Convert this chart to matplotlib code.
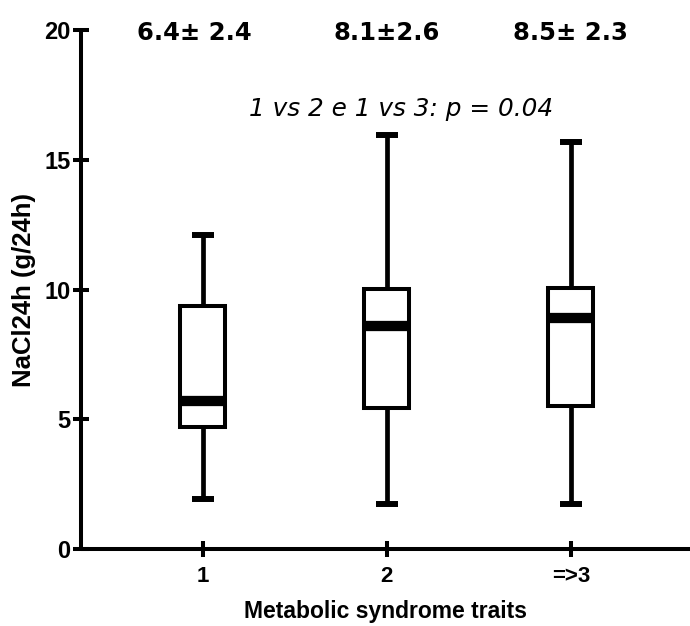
import matplotlib
matplotlib.use("Agg")
import matplotlib.pyplot as plt
from matplotlib.transforms import offset_copy

# Data: NaCl excretion (g/24h) by number of metabolic syndrome traits
categories = ["1", "2", "=>3"]
whisker_low = [1.92, 1.72, 1.72]
q1 = [4.69, 5.42, 5.50]
median = [5.71, 8.59, 8.92]
q3 = [9.35, 10.02, 10.04]
whisker_high = [12.12, 15.97, 15.67]
mean_sd_labels = ["6.4\u00b1 2.4", "8.1\u00b12.6", "8.5\u00b1 2.3"]
p_text = "1 vs 2 e 1 vs 3: p = 0.04"
y_ticks = [0, 5, 10, 15, 20]

arial = ["Liberation Sans", "DejaVu Sans"]

fig = plt.figure(figsize=(6.9, 6.26), dpi=100)
ax = fig.add_axes([0.117, 0.123, 0.883, 0.829])

positions = list(range(1, len(categories) + 1))
stats = []
for i, name in enumerate(categories):
    stats.append(dict(label=name, whislo=whisker_low[i], q1=q1[i], med=median[i],
                      q3=q3[i], whishi=whisker_high[i], fliers=[]))

ax.bxp(stats, positions=positions, widths=0.245, capwidths=0.12, showfliers=False,
       patch_artist=True,
       boxprops=dict(facecolor="white", edgecolor="black", linewidth=2.9),
       medianprops=dict(color="black", linewidth=7.4, solid_capstyle="butt"),
       whiskerprops=dict(color="black", linewidth=3.4, solid_capstyle="butt"),
       capprops=dict(color="black", linewidth=4.3, solid_capstyle="butt"))

ax.set_xlim(0.337, 3.648)
ax.set_ylim(0, 20)
ax.set_yticks(y_ticks)
ax.set_yticklabels([str(t) for t in y_ticks], family=arial, fontweight="bold", fontsize=17)
ax.set_xticks(positions)
ax.set_xticklabels(categories, family=arial, fontweight="bold", fontsize=16)

for side in ("top", "right"):
    ax.spines[side].set_visible(False)
for side in ("left", "bottom"):
    ax.spines[side].set_linewidth(2.9)
    ax.spines[side].set_capstyle("butt")
ax.tick_params(axis="both", direction="inout", length=11, width=2.9)
ax.tick_params(axis="x", pad=7)
ax.tick_params(axis="y", pad=2)

ax.set_ylabel("NaCl24h (g/24h)", family=arial, fontweight="bold", fontsize=18.5, labelpad=6)
ax.set_xlabel("Metabolic syndrome traits", family=arial, fontweight="bold", fontsize=16.5, labelpad=9)

# mean ± SD above each group
label_dx = [-8, 0, 0]
for pos, lab, dx in zip(positions, mean_sd_labels, label_dx):
    tr = offset_copy(ax.transData, fig=fig, x=dx, y=0, units="dots")
    ax.text(pos, 19.88, lab, transform=tr, ha="center", va="center", fontsize=17.5,
            fontweight="bold", family="DejaVu Sans", clip_on=False)
ax.text(2.078, 16.94, p_text, ha="center", va="center", fontsize=17.8, style="italic",
        family="DejaVu Sans")

fig.savefig("out.png", dpi=100)
